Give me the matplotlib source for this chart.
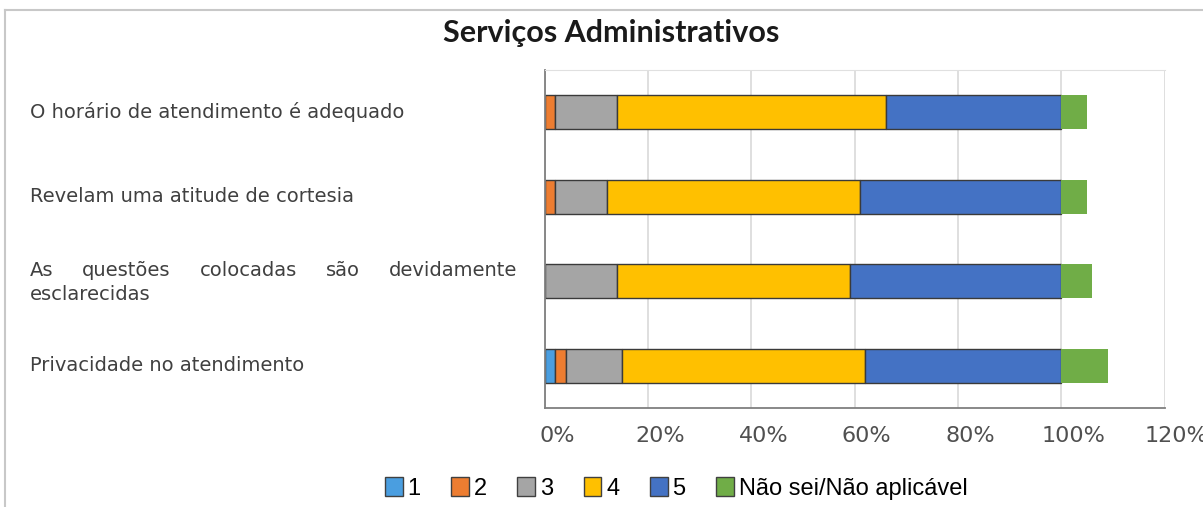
import matplotlib
matplotlib.use("Agg")
import matplotlib.pyplot as plt
import matplotlib.transforms as mtrans
import numpy as np
from matplotlib.lines import Line2D

title = "Serviços Administrativos"
questions = ["O horário de atendimento é adequado",
             "Revelam uma atitude de cortesia",
             "As questões colocadas são devidamente esclarecidas",
             "Privacidade no atendimento"]
series_names = ["1", "2", "3", "4", "5", "Não sei/Não aplicável"]
# percentages per question, one list per answer
v1 = [0, 0, 0, 2]
v2 = [2, 2, 0, 2]
v3 = [12, 10, 14, 11]
v4 = [52, 49, 45, 47]
v5 = [34, 39, 41, 38]
v_ns = [5, 5, 6, 9]
xticks = [0, 20, 40, 60, 80, 100, 120]

colors = ["#4a9ee0", "#ed7d31", "#a5a5a5", "#ffc000", "#4472c4", "#70ad47"]

fig = plt.figure(figsize=(12.03, 5.07), dpi=100)
ax = fig.add_axes([0.453, 0.195, 0.515, 0.667])

y = np.arange(len(questions))
left = np.zeros(len(questions))
for name, vals, c in zip(series_names, [v1, v2, v3, v4, v5, v_ns], colors):
    vals = np.array(vals, dtype=float)
    if name == series_names[-1]:
        ax.barh(y, vals, left=left, height=0.4, color=c, linewidth=0, label=name)
    else:
        ax.barh(y, vals, left=left, height=0.4, color=c, edgecolor="#3a3a3a",
                linewidth=1.0, label=name)
    left = left + vals

ax.set_ylim(len(questions) - 0.5, -0.5)
ax.set_xlim(0, 120)
ax.set_xticks(xticks)
ax.set_xticklabels([f"{t}%" for t in xticks], fontsize=16, color="#505050")
ax.set_yticks([])
ax.tick_params(axis="x", length=0, pad=13)
ax.grid(axis="x", color="#d9d9d9", linewidth=1.2)
ax.set_axisbelow(True)
for s in ["left", "bottom"]:
    ax.spines[s].set_color("#7f7f7f")
    ax.spines[s].set_linewidth(1.3)
ax.spines["top"].set_color("#e0e0e0")
ax.spines["right"].set_visible(False)

# tick labels sit a little right of their gridlines in the source
off = mtrans.ScaledTranslation(12 / 100, 0, fig.dpi_scale_trans)
for lab in ax.get_xticklabels():
    lab.set_transform(lab.get_transform() + off)

fig.text(0.508, 0.935, title, ha="center", va="center", fontsize=22,
         fontweight="bold", family="Lato", color="#1a1a1a")

# question labels, left aligned; the long one justified like in the source
fig.canvas.draw()
renderer = fig.canvas.get_renderer()
x_left = 30 / 1203
x_right = 517 / 1203
lab_kw = dict(fontsize=14, color="#404040", va="center", family="DejaVu Sans")
for i, q in enumerate(questions):
    yc = ax.transData.transform((0, i))[1] / fig.bbox.height
    if q.startswith("As quest"):
        words = q.split()[:-1]
        last = q.split()[-1]
        line_y = yc + 11 / 507
        widths = []
        for w in words:
            t = fig.text(0, 0, w, **lab_kw)
            widths.append(t.get_window_extent(renderer).width / fig.bbox.width)
            t.remove()
        gap = (x_right - x_left - sum(widths)) / (len(words) - 1)
        xpos = x_left
        for w, wd in zip(words, widths):
            fig.text(xpos, line_y, w, ha="left", **lab_kw)
            xpos += wd + gap
        fig.text(x_left, yc - 13 / 507, last, ha="left", **lab_kw)
    else:
        fig.text(x_left, yc, q, ha="left", **lab_kw)

handles = [plt.Rectangle((0, 0), 1, 1, facecolor=c, edgecolor="#404040", linewidth=1)
           for c in colors]
fig.legend(handles, series_names, loc="center", bbox_to_anchor=(0.562, 0.037),
           ncol=6, frameon=False, handlelength=0.75, handleheight=0.9,
           handletextpad=0.2, columnspacing=1.3,
           prop={"family": "Liberation Sans", "size": 17})

# outer frame lines (top and left) of the original chart box
fig.add_artist(Line2D([5 / 1203, 1], [1 - 10 / 507] * 2, color="#c8c8c8", linewidth=1.5))
fig.add_artist(Line2D([5 / 1203] * 2, [0, 1 - 10 / 507], color="#c8c8c8", linewidth=1.5))

fig.savefig("out.png", dpi=100)
